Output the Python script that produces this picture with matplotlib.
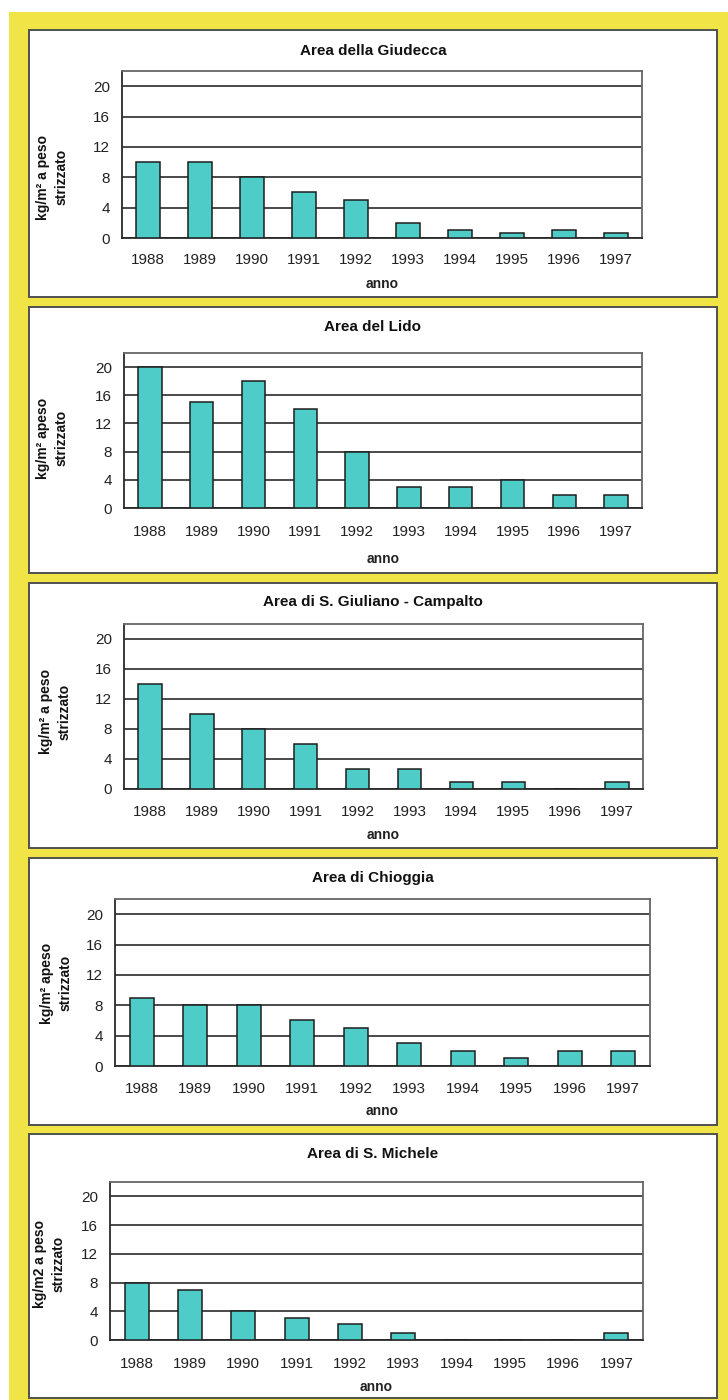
import matplotlib
matplotlib.use("Agg")
import matplotlib.pyplot as plt
from matplotlib.patches import Rectangle

plt.rcParams['font.family'] = ['Liberation Sans', 'DejaVu Sans']

# ---- data ---------------------------------------------------------------
years = ['1988', '1989', '1990', '1991', '1992', '1993', '1994', '1995', '1996', '1997']

titles = [
    'Area della Giudecca',
    'Area del Lido',
    'Area di S. Giuliano - Campalto',
    'Area di Chioggia',
    'Area di S. Michele',
]

ylabels = [
    'kg/m² a peso\nstrizzato',
    'kg/m² apeso\nstrizzato',
    'kg/m² a peso\nstrizzato',
    'kg/m² apeso\nstrizzato',
    'kg/m2 a peso\nstrizzato',
]

giudecca = [10, 10, 8, 6, 5, 2, 1, 0.7, 1, 0.7]
lido = [20, 15, 18, 14, 8, 3, 3, 4, 1.8, 1.8]
giuliano = [14, 10, 8, 6, 2.7, 2.7, 0.9, 0.9, 0, 0.9]
chioggia = [9, 8, 8, 6, 5, 3, 2, 1, 2, 2]
michele = [8, 7, 4, 3, 2.2, 1, 0, 0, 0, 1]

yticks = [0, 4, 8, 12, 16, 20]
xlabel = 'anno'

series = [giudecca, lido, giuliano, chioggia, michele]

# ---- layout (pixel coordinates on a 728 x 1400 canvas) -------------------
W, H = 728, 1400
# panel box: (top, bottom)
panel_box = [(30, 297), (307, 573), (583, 848), (858, 1125), (1134, 1398)]
# plot area: (left, right, top, bottom)
plot_box = [(122, 642, 71, 238), (124, 642, 353, 508), (124, 643, 624, 789),
            (115, 650, 899, 1066), (110, 643, 1182, 1340)]
title_y = [51, 327, 602, 878, 1154]
tick_y = [259, 531, 811, 1088, 1363]
anno_y = [284, 559, 835, 1111, 1387]
ylab_xy = [(52, 177), (52, 438), (55, 712), (56, 983), (49, 1264)]

YELLOW = '#F0E447'
BAR = '#4ECCC8'
GRID = '#3c3c3c'
FRAME = '#505050'


def fx(px):
    return px / W


def fy(py):
    return 1 - py / H


fig = plt.figure(figsize=(W / 100, H / 100), dpi=100)
fig.patch.set_facecolor('white')

# yellow background with a white margin at top and left
fig.patches.append(Rectangle((fx(9), 0), 1 - fx(9), fy(12), transform=fig.transFigure,
                             facecolor=YELLOW, edgecolor='none', zorder=0))

for i, vals in enumerate(series):
    top, bot = panel_box[i]
    fig.patches.append(Rectangle((fx(29), fy(bot)), fx(717) - fx(29), fy(top) - fy(bot),
                                 transform=fig.transFigure, facecolor='white',
                                 edgecolor=FRAME, linewidth=1.4, zorder=1))

    l, r, t, b = plot_box[i]
    ax = fig.add_axes([fx(l), fy(b), fx(r) - fx(l), fy(t) - fy(b)])
    ax.set_zorder(2)
    ax.set_facecolor('white')

    x = range(len(years))
    ax.bar(x, vals, width=0.45, color=BAR, edgecolor='#1e1e1e', linewidth=1.1, zorder=3)

    ax.set_xlim(-0.5, len(years) - 0.5)
    ax.set_ylim(0, 22)
    ax.set_yticks(yticks)
    ax.set_xticks(list(x))
    ax.set_xticklabels(years)
    ax.set_axisbelow(True)
    ax.yaxis.grid(True, color=GRID, linewidth=1.3)
    ax.xaxis.grid(False)

    for side in ('left', 'bottom'):
        ax.spines[side].set_color('#2a2a2a')
        ax.spines[side].set_linewidth(1.3)
    for side in ('top', 'right'):
        ax.spines[side].set_color('#666666')
        ax.spines[side].set_linewidth(1.3)

    xpad = (tick_y[i] - b - 6) * 0.72
    ax.tick_params(axis='x', length=0, pad=xpad, labelsize=11, labelcolor='#222222')
    ax.tick_params(axis='y', length=0, pad=8.5, labelsize=11, labelcolor='#222222')

    fig.text(fx(373), fy(title_y[i]), titles[i], ha='center', va='center',
             fontsize=11, fontweight='bold', color='#111111')
    fig.text(fx((l + r) / 2), fy(anno_y[i]), xlabel, ha='center', va='center',
             fontsize=10, fontweight='bold', color='#222222')
    lx, ly = ylab_xy[i]
    fig.text(fx(lx), fy(ly), ylabels[i], ha='center', va='center', rotation=90,
             fontsize=10, fontweight='bold', color='#111111', linespacing=1.4,
             multialignment='center')

fig.savefig('out.png', dpi=100, facecolor=fig.get_facecolor())
